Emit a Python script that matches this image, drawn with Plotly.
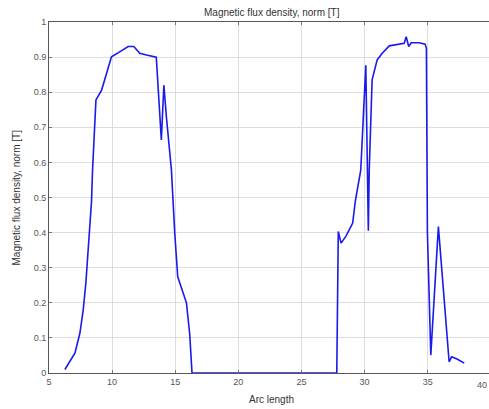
import plotly.graph_objects as go

# Arc-length coordinate and flux density norm along the cut line
arc_length = [
    6.26, 7.06, 7.45, 7.71, 7.92, 8.10, 8.24, 8.37, 8.45, 8.72, 9.17, 9.95,
    10.6, 11.27, 11.72, 12.19, 12.72, 13.5, 13.9, 14.1, 14.3, 14.7, 14.96,
    15.2, 15.89, 16.15, 16.33, 20.0, 24.0, 27.8, 27.92, 28.14, 28.53, 29.06,
    29.27, 29.7, 30.1, 30.3, 30.37, 30.6, 31.0, 31.4, 31.96, 32.75, 33.14,
    33.3, 33.5, 33.7, 34.33, 34.8, 34.9, 34.98, 35.25, 35.85, 36.3, 36.7,
    36.9, 37.36, 37.9,
]
flux_norm = [
    0.01, 0.057, 0.114, 0.18, 0.256, 0.35, 0.445, 0.49, 0.578, 0.778, 0.806,
    0.901, 0.915, 0.93, 0.93, 0.911, 0.906, 0.90, 0.664, 0.82, 0.73, 0.578,
    0.40, 0.274, 0.20, 0.11, 0.0, 0.0, 0.0, 0.0, 0.403, 0.37, 0.39, 0.427,
    0.49, 0.578, 0.877, 0.405, 0.578, 0.835, 0.892, 0.911, 0.932, 0.937,
    0.939, 0.958, 0.93, 0.941, 0.941, 0.937, 0.925, 0.40, 0.051, 0.417,
    0.208, 0.032, 0.046, 0.039, 0.028,
]

x_ticks = [5, 10, 15, 20, 25, 30, 35]
y_ticks = [0, 0.1, 0.2, 0.3, 0.4, 0.5, 0.6, 0.7, 0.8, 0.9, 1]

W, H = 489, 409
L, T, B = 49, 22, 36
font = dict(family="Liberation Sans, Arial, sans-serif", size=9, color="#555555")

fig = go.Figure()
fig.add_trace(go.Scatter(
    x=arc_length, y=flux_norm, mode="lines",
    line=dict(color="#1a1aee", width=1.6),
    showlegend=False, hoverinfo="skip",
))

x_range = [5, 39.86]
axis_common = dict(
    showgrid=True, gridcolor="#dddddd", gridwidth=1,
    showline=True, linecolor="#555555", linewidth=1,
    ticks="inside", ticklen=3, tickcolor="#777777",
    zeroline=False, tickfont=font,
)
fig.update_xaxes(range=x_range, tickvals=x_ticks, mirror="ticks", **axis_common)
fig.update_yaxes(range=[0, 1], tickvals=y_ticks, mirror=False, **axis_common)

# last x tick label, right at the page edge
fig.add_annotation(
    x=1, xref="paper", y=0, yref="paper", yshift=-12, text="40",
    showarrow=False, font=font, xanchor="right", yanchor="middle",
)

title_text = "Magnetic flux density, norm [T]"
fig.add_annotation(
    x=0.506, xref="paper", y=1, yref="paper", yshift=10,
    text=title_text, showarrow=False,
    font=dict(family=font["family"], size=10, color="#333333"),
    xanchor="center", yanchor="middle",
)
fig.add_annotation(
    x=-33 / 440, xref="paper", y=0.5, yref="paper",
    text=title_text, textangle=-90, showarrow=False,
    font=dict(family=font["family"], size=10, color="#333333"),
    xanchor="center", yanchor="middle",
)
fig.add_annotation(
    x=0.506, xref="paper", y=0, yref="paper", yshift=-26,
    text="Arc length", showarrow=False,
    font=dict(family=font["family"], size=10, color="#333333"),
    xanchor="center", yanchor="middle",
)

fig.update_layout(
    width=W, height=H,
    margin=dict(l=L, r=0, t=T, b=B, pad=0),
    plot_bgcolor="white", paper_bgcolor="white",
)

fig.write_html("out.html")
